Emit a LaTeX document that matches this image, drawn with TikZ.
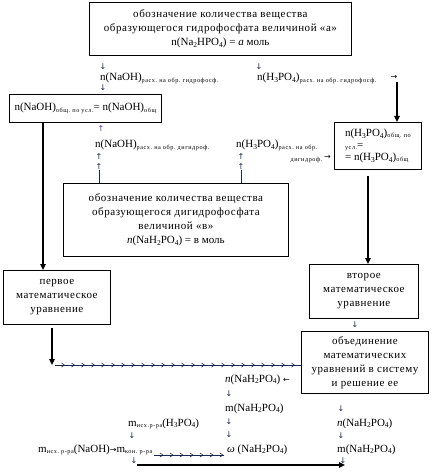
\documentclass[tikz,border=0pt]{standalone}
\usepackage{fontspec}
\setmainfont{Liberation Serif}
\newfontfamily\cyrsp[LetterSpace=5]{Liberation Serif}
\newfontfamily\subsp[LetterSpace=9]{Liberation Serif}
\newfontfamily\arrfont{DejaVu Sans}
\usetikzlibrary{arrows.meta,decorations.markings}
\newcommand{\ls}[1]{\raisebox{-1.3pt}{\subsp\fontsize{6.2}{6}\selectfont #1}}
\newcommand{\ds}[1]{\raisebox{-1.6pt}{\rmfamily\fontsize{7.5}{8}\selectfont #1}}
\newcommand{\ar}[1]{{\arrfont\fontsize{8}{8}\selectfont #1}}
\definecolor{arr}{HTML}{1A2550}
\definecolor{purp}{HTML}{7030A0}
\frenchspacing
\begin{document}
\begin{tikzpicture}[x=1pt,y=-1pt,
  every node/.style={inner sep=0pt, font=\fontsize{11}{14}\selectfont},
  box/.style={draw, line width=0.8pt, align=center, anchor=north west, font=\fontsize{11}{14}\cyrsp},
  txt/.style={anchor=base west},
  gl/.style={anchor=center, text=arr, font=\arrfont\fontsize{8}{8}\selectfont},
  big/.style={line width=1.6pt, -{Triangle[length=6pt,width=5.5pt]}},
  shaft/.style={line width=0.6pt, draw=arr},
  arrowrow/.style={line width=0.6pt, draw=arr, postaction={decorate},
    decoration={markings, mark=between positions 10pt and 1 step 10pt with {\arrow[arr]{Straight Barb[length=3pt,width=4pt]}}}}
]
\useasboundingbox[fill=white] (0,0) rectangle (438,473);

% boxes
\node[box, minimum width=262pt, minimum height=53pt] (top) at (89,2)
  {обозначение количества вещества\\образующегося гидрофосфата величиной «а»\\{\rmfamily n(Na\ds{2}HPO\ds{4}) = \textit{а} моль}};
\node[box, minimum width=152pt, minimum height=28pt, align=left] (lbox) at (9,94)
  {\rmfamily n(NaOH)\ls{общ. по усл.}= n(NaOH)\ls{общ}};
\node[box, minimum width=87pt, minimum height=47pt, align=left] (hbox) at (334,122)
  {\rmfamily n(H\ds{3}PO\ds{4})\ls{общ. по}\\[-2pt]\rmfamily\ls{усл.}=\\[-2pt]\rmfamily= n(H\ds{3}PO\ds{4})\ls{общ}};
\node[box, minimum width=225pt, minimum height=73pt] (mbox) at (63,183)
  {обозначение количества вещества\\образующегося дигидрофосфата\\величиной «в»\\{\rmfamily\textit{n}(NaH\ds{2}PO\ds{4}) = в моль}};
\node[box, minimum width=107pt, minimum height=54pt] (first) at (3,270)
  {первое\\математическое\\уравнение};
\node[box, minimum width=109pt, minimum height=54pt] (second) at (309,264)
  {второе\\математическое\\уравнение};
\node[box, minimum width=127pt, minimum height=62pt] (sys) at (301,331)
  {объединение\\математических\\уравнений в систему\\и решение ее};

% upper text
\node[gl] (g1) at (103,67) {↓};
\node[gl] (g2) at (259,67) {↓};
\node[txt] (t1) at (100,81) {n(NaOH)\ls{расх. на обр. гидрофосф.}};
\node[txt] (t2) at (257,81) {n(H\ds{3}PO\ds{4})\ls{расх. на обр. гидрофосф.}};
\node[gl, text=black] (ga) at (394,77) {→};
\node[gl] (g3) at (103,88) {↓};

\node[gl, text=purp] (g4) at (101,129) {↑};
\node[txt] (t3) at (95,148) {n(NaOH)\ls{расх. на обр. дигидроф.}};
\node[txt] (t4) at (236,148) {n(H\ds{3}PO\ds{4})\ls{расх. на обр.}};
\node[anchor=base east] (t5) at (331,160) {\ls{дигидроф.}\,\ar{→}};
\node[gl] (g5) at (99,157) {↑};
\node[gl] (g6) at (99,167) {↑};
\node[gl] (g7) at (241,157) {↑};
\node[gl] (g8) at (241,167) {↑};
\coordinate (l1) at ([xshift=36pt]mbox.north west);
\coordinate (l2) at ([xshift=178pt]mbox.north west);
\draw[shaft] (l1) -- (l1 |- g6.south);
\draw[shaft] (l2) -- (l2 |- g8.south);

% thick arrows
\coordinate (a1) at ([xshift=34pt]lbox.south west);
\draw[big] (a1) -- (a1 |- first.north);
\coordinate (a2) at ([xshift=3pt,yshift=-3pt]ga.south);
\draw[big] (a2) -- (a2 |- hbox.north);
\coordinate (a3) at ([xshift=34pt,yshift=-6pt]hbox.south west);
\draw[big] (a3) -- (a3 |- second.north);
\node[gl] (g9) at (355,325) {↓};
\coordinate (a4) at ([xshift=49pt,yshift=-3pt]first.south west);
\coordinate (c2) at (52,365);
\draw[big] (a4) -- (c2);
\draw[arrowrow] ([xshift=3pt]c2) -- (c2 -| sys.west);

% lower left column
\node[txt] (n1) at (225,382) {\textit{n}(NaH\ds{2}PO\ds{4}) \ar{←}};
\node[gl] (g10) at (229,394) {↓};
\node[txt] (m1) at (225,411) {m(NaH\ds{2}PO\ds{4})};
\node[gl] (g11) at (229,422) {↓};
\node[gl] (g12) at (229,435) {↓};
\node[txt] (w1) at (227,452) {\textit{ω} (NaH\ds{2}PO\ds{4})};

% lower right column
\node[gl] (g13) at (341,409) {↓};
\node[txt] (n2) at (337,426) {\textit{n}(NaH\ds{2}PO\ds{4})};
\node[gl] (g14) at (341,436) {↓};
\node[txt] (m2) at (337,452) {m(NaH\ds{2}PO\ds{4})};
\node[gl] (g15) at (343,461) {↓};

% bottom left
\node[txt] (mh) at (128,426) {m\ls{исх.р-ра}(H\ds{3}PO\ds{4})};
\node[gl] (g16) at (132,436) {↓};
\node[txt] (mrow) at (38,452) {m\ls{исх. р-ра}(NaOH)\ar{→}m\ls{кон. р-ра}};
\draw[arrowrow] ([xshift=1pt,yshift=-3pt]mrow.base east) -- ([xshift=-3pt,yshift=-3pt]mrow.base east -| w1.west);
\node[gl] (g17) at (134,461) {↓};
\coordinate (b1) at (137,465);
\coordinate (b2) at (g15.center |- b1);
\draw[big] (b1) -- ([xshift=2pt]b2);
\end{tikzpicture}
\end{document}
